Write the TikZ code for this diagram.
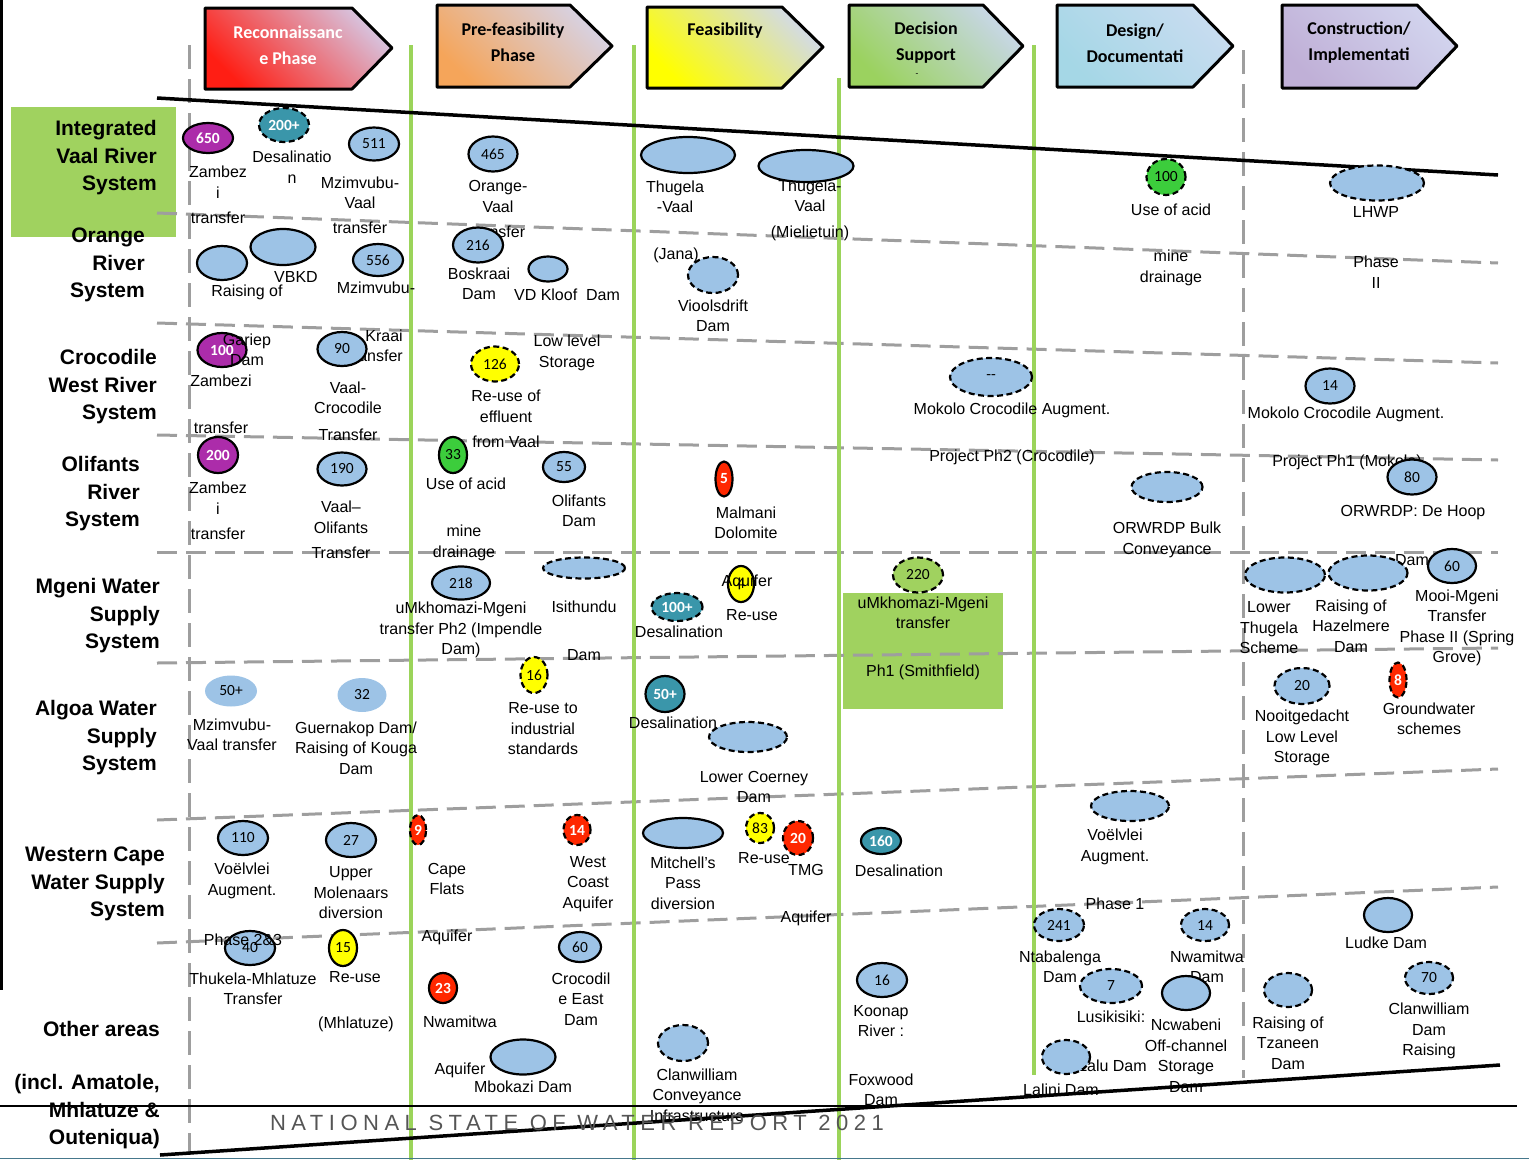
\documentclass[tikz,border=0pt]{standalone}
\usepackage{fontspec}
\setmainfont{Liberation Sans}
\newfontfamily\carlito{Carlito}
\newfontfamily\footfont[LetterSpace=25]{Liberation Sans}
\usetikzlibrary{shapes.geometric}
\definecolor{projblue}{RGB}{157,195,230}
\definecolor{zpurple}{RGB}{172,44,170}
\definecolor{desalteal}{RGB}{58,150,170}
\definecolor{reuseyellow}{RGB}{255,255,0}
\definecolor{acidgreen}{RGB}{60,205,60}
\definecolor{gwred}{RGB}{255,40,0}
\definecolor{boxgreen}{RGB}{160,210,95}
\definecolor{phaseline}{RGB}{155,212,90}
\definecolor{rowline}{RGB}{158,158,158}
\definecolor{footgray}{RGB}{85,85,85}
\definecolor{footrule}{RGB}{70,120,140}
\definecolor{rcnA}{RGB}{255,30,20}\definecolor{rcnB}{RGB}{215,195,222}
\definecolor{pfsA}{RGB}{245,165,90}\definecolor{pfsB}{RGB}{215,210,228}
\definecolor{fsA}{RGB}{255,255,0}\definecolor{fsB}{RGB}{210,218,232}
\definecolor{dsA}{RGB}{155,210,95}\definecolor{dsB}{RGB}{200,215,232}
\definecolor{ddA}{RGB}{165,215,230}\definecolor{ddB}{RGB}{200,220,240}
\definecolor{ciA}{RGB}{192,176,215}\definecolor{ciB}{RGB}{210,212,238}
\newcommand\numfont{\carlito\fontsize{15.5}{18}\selectfont}
\newcommand\lblfont{\fontsize{16}{20.5}\selectfont}
\newcommand\rowfont{\fontsize{21}{27.5}\selectfont\bfseries}
\newcommand\hdrfont{\carlito\bfseries\fontsize{18}{26}\selectfont}
\tikzset{
  proj/.style={ellipse, draw=black, line width=2.2pt, inner sep=0pt, fill=projblue, font=\numfont},
  plan/.style={proj, dash pattern=on 6pt off 3.5pt},
  sz/.style 2 args={minimum width=#1pt, minimum height=#2pt},
  hot/.style={text=white, font=\numfont\bfseries},
  lbl/.style={align=center, font=\lblfont, inner sep=0pt},
  sysname/.style={align=right, font=\rowfont, anchor=east, inner sep=0pt},
  hdr/.style={draw=black, line width=3pt, line join=round},
  hdrtxt/.style={align=center, font=\hdrfont, inner sep=0pt},
  rowsep/.style={rowline, line width=3pt, dash pattern=on 20pt off 9pt},
  colsep/.style={rowline, line width=3pt, dash pattern=on 24pt off 10pt},
  stagesep/.style={phaseline, line width=3.5pt},
  bound/.style={black, line width=3.5pt}
}
\begin{document}
\begin{tikzpicture}[x=1pt, y=-1pt]
\useasboundingbox (0,0) rectangle (1529,1160);
\node[fill=boxgreen, minimum width=165pt, minimum height=130pt, inner sep=0pt, anchor=north west] (ivrsbox) at (11,107) {};
\node[fill=boxgreen, minimum width=160pt, minimum height=116pt, inner sep=0pt] (smithbox) at (923,651) {};

\draw[line width=3pt] (1,0) -- (1,990);
\draw[rowsep] (157,213) -- (1498,263);
\draw[rowsep] (157,323) -- (1498,363);
\draw[rowsep] (157,435) -- (1498,460);
\draw[rowsep] (157,552) -- (1498,552);
\draw[rowsep] (157,663) -- (1498,648);
\draw[rowsep] (157,820) -- (1498,769);
\draw[rowsep] (157,943) -- (1498,887);
\draw[colsep] (189,45) -- (189,1155);
\draw[stagesep] (411,45) -- (411,1160);
\draw[stagesep] (634,45) -- (634,1160);
\draw[stagesep] (839,78) -- (839,1160);
\draw[stagesep] (1034,45) -- (1034,1075);
\draw[colsep] (1243,50) -- (1243,1078);
\draw[bound] (157,98) -- (1498,175);
\draw[bound] (160,1155) -- (1500,1065);

\shade[hdr, bottom color=rcnA, top color=rcnB, shading angle=-45] (205,8) -- (352,8) -- (392,48) -- (352,89) -- (205,89) -- cycle;
\shade[hdr, bottom color=pfsA, top color=pfsB, shading angle=-45] (437,5) -- (570,5) -- (612,46) -- (570,87) -- (437,87) -- cycle;
\shade[hdr, bottom color=fsA, top color=fsB, shading angle=-45] (647,7) -- (782,7) -- (823,47) -- (782,88) -- (647,88) -- cycle;
\shade[hdr, bottom color=dsA, top color=dsB, shading angle=-45] (849,5) -- (983,5) -- (1023,46) -- (983,87) -- (849,87) -- cycle;
\shade[hdr, bottom color=ddA, top color=ddB, shading angle=-45] (1057,5) -- (1193,5) -- (1233,46) -- (1193,87) -- (1057,87) -- cycle;
\shade[hdr, bottom color=ciA, top color=ciB, shading angle=-45] (1282,5) -- (1417,5) -- (1457,46) -- (1417,88) -- (1282,88) -- cycle;
\node[hdrtxt, text=white] (recon) at (288,45) {Reconnaissanc\\e Phase};
\node[hdrtxt] (prefeas) at (513,42) {Pre-feasibility\\Phase};
\node[hdrtxt] (feas) at (725,31) {Feasibility};
\node[hdrtxt] (decision) at (926,43) {Decision\\Support};
\node[font=\carlito\fontsize{9}{9}\selectfont, inner sep=0pt] (decmark) at (917,75) {-};
\node[hdrtxt] (design) at (1135,43) {Design/\\Documentati};
\node[hdrtxt] (construct) at (1359,43) {Construction/\\Implementati};

\node[sysname] (ivrs) at (157,158) {Integrated\\Vaal River\\System};
\node[sysname] (orange) at (145,265) {Orange\\River\\System};
\node[sysname] (crocw) at (157,387) {Crocodile\\West River\\System};
\node[sysname] (olifants) at (140,494) {Olifants\\River\\System};
\node[sysname] (mgeni) at (160,616) {Mgeni Water\\Supply\\System};
\node[sysname] (algoa) at (157,738) {Algoa Water\\Supply\\System};
\node[sysname] (wcape) at (165,884) {Western Cape\\Water Supply\\System};
\node[sysname] (other) at (160,1029) {Other areas};
\node[sysname] (otherincl) at (160,1112) {(incl. Amatole,\\Mhlatuze \&\\Outeniqua)};

\node[lbl] (zam650lbl) at (218,195) {Zambez\\i\\[5pt]transfer};
\node[lbl] (desal200lbl) at (292,167) {Desalinatio\\n};
\node[lbl] (mzv511lbl) at (360,205) {Mzimvubu-\\Vaal\\[4pt]transfer};
\node[lbl] (ov465lbl) at (498,209) {Orange-\\Vaal\\[5pt]transfer};
\node[lbl] (tv1lbl) at (675,197) {Thugela\\-Vaal};
\node[lbl] (tv2lbl) at (810,210) {Thugela-\\Vaal\\[5pt](Mielietuin)};
\node[lbl] (acid100lbl) at (1171,210) {Use of acid};
\node[lbl] (acid100lblb) at (1171,268) {mine\\drainage};
\node[lbl] (lhwplbl) at (1376,212) {LHWP};
\node[lbl] (lhwplblb) at (1376,272) {Phase\\II};

\node[lbl] (raisevblbl) at (247,292) {Raising of};
\node[lbl] (vbkdlbl) at (296,277) {VBKD};
\node[lbl] (mzv556lbl) at (376,288) {Mzimvubu-};
\node[lbl] (bosk216lbl) at (479,284) {Boskraai\\Dam};
\node[lbl] (vdklbl) at (567,295) {VD Kloof\ \ Dam};
\node[lbl] (jana) at (676,255) {(Jana)};
\node[lbl] (vioollbl) at (713,316) {Vioolsdrift\\Dam};

\node[lbl] (zam100lbl) at (221,381) {Zambezi};
\node[lbl] (zam100lblb) at (221,428) {transfer};
\node[lbl, align=right, anchor=east] (kraai) at (403,346) {Kraai\\transfer};
\node[lbl] (vc90lbl) at (348,411) {Vaal-\\Crocodile\\[6pt]Transfer};
\node[lbl] (lowlevel) at (567,353) {Low level\\Storage};
\node[lbl] (reuse126lbl) at (506,419) {Re-use of\\effluent\\[5pt]from Vaal};
\node[lbl] (mokolo2lbl) at (1012,410) {Mokolo Crocodile Augment.};
\node[lbl] (mokolo2lblb) at (1012,457) {Project Ph2 (Crocodile)};
\node[lbl] (mokolo1lbl) at (1346,414) {Mokolo Crocodile Augment.};
\node[lbl] (mokolo1lblb) at (1347,462) {Project Ph1 (Mokolo)};

\node[lbl] (zam200lbl) at (218,511) {Zambez\\i\\[5pt]transfer};
\node[lbl] (vo190lbl) at (341,530) {Vaal--\\Olifants\\[5pt]Transfer};
\node[lbl] (acid33lbl) at (466,484) {Use of acid};
\node[lbl] (acid33lblb) at (464,543) {mine\\drainage};
\node[lbl] (olif55lbl) at (579,511) {Olifants\\Dam};
\node[lbl] (malm5lbl) at (746,523) {Malmani\\Dolomite};
\node[lbl] (orwrdplbl) at (1167,540) {ORWRDP Bulk\\Conveyance};
\node[lbl] (dehooplbl) at (1413,513) {ORWRDP: De Hoop};

\node[lbl] (imp218lbl) at (461,630) {uMkhomazi-Mgeni\\transfer Ph2 (Impendle\\Dam)};
\node[lbl] (isithlbl) at (584,607) {Isithundu};
\node[lbl] (isithlblb) at (584,655) {Dam};
\node[lbl] (desal100lbl) at (679,632) {Desalination};
\node[lbl] (reuse4lbl) at (752,615) {Re-use};
\node[lbl] (smithlbl) at (923,613) {uMkhomazi-Mgeni\\transfer};
\node[lbl] (smithlblb) at (923,672) {Ph1 (Smithfield)};
\node[lbl] (lthuglbl) at (1269,628) {Lower\\Thugela\\Scheme};
\node[lbl] (hazellbl) at (1351,626) {Raising of\\Hazelmere\\Dam};
\node[lbl] (mooidam) at (1412,560) {Dam};
\node[lbl] (mooilbl) at (1457,628) {Mooi-Mgeni\\Transfer\\Phase II (Spring\\Grove)};

\node[lbl] (mzv50lbl) at (232,735) {Mzimvubu-\\Vaal transfer};
\node[lbl] (kouga32lbl) at (356,748) {Guernakop Dam/\\Raising of Kouga\\Dam};
\node[lbl] (reuse16lbl) at (543,729) {Re-use to\\industrial\\standards};
\node[lbl] (desal50lbl) at (673,723) {Desalination};
\node[lbl] (coerneylbl) at (754,787) {Lower Coerney\\Dam};
\node[lbl] (nooitlbl) at (1302,738) {Nooitgedacht\\Low Level\\Storage};
\node[lbl] (gw8lbl) at (1429,719) {Groundwater\\schemes};

\node[lbl] (voel1lbl) at (1115,847) {Voëlvlei\\Augment.};
\node[lbl] (voel1lblb) at (1115,904) {Phase 1};
\node[lbl] (voel110lbl) at (242,881) {Voëlvlei\\Augment.};
\node[lbl] (molenlbl) at (351,893) {Upper\\Molenaars\\diversion};
\node[lbl] (cape9lbl) at (447,879) {Cape\\Flats};
\node[lbl] (cape9lblb) at (447,937) {Aquifer};
\node[lbl] (west14lbl) at (588,884) {West\\Coast\\Aquifer};
\node[lbl] (mitchlbl) at (683,883) {Mitchell’s\\Pass\\diversion};
\node[lbl] (reuse83lbl) at (764,858) {Re-use};
\node[lbl] (tmglbl) at (806,870) {TMG};
\node[lbl] (tmglblb) at (806,918) {Aquifer};
\node[lbl] (desal160lbl) at (899,871) {Desalination};

\node[lbl] (thuklbl) at (253,989) {Thukela-Mhlatuze\\Transfer};
\node[lbl] (reuse15lbl) at (355,977) {Re-use};
\node[lbl] (reuse15lblb) at (356,1024) {(Mhlatuze)};
\node[lbl] (nwam23lbl) at (460,1022) {Nwamitwa};
\node[lbl] (nwam23lblb) at (460,1070) {Aquifer};
\node[lbl] (croc60lbl) at (581,999) {Crocodil\\e East\\Dam};
\node[lbl] (mboklbl) at (523,1087) {Mbokazi Dam};
\node[lbl] (clanclbl) at (697,1095) {Clanwilliam\\Conveyance\\Infrastructure};
\node[lbl] (koonlbl) at (881,1021) {Koonap\\River :};
\node[lbl] (koonlblb) at (881,1090) {Foxwood\\Dam};
\node[lbl] (ntablbl) at (1060,967) {Ntabalenga\\Dam};
\node[lbl] (luslbl) at (1111,1017) {Lusikisiki:};
\node[lbl] (luslblb) at (1112,1066) {Zalu Dam};
\node[lbl] (lalinilbl) at (1061,1090) {Lalini Dam};
\node[lbl] (ncwablbl) at (1186,1056) {Ncwabeni\\Off-channel\\Storage\\Dam};
\node[lbl] (nwam14lbl) at (1207,967) {Nwamitwa\\Dam};
\node[lbl] (tzanlbl) at (1288,1043) {Raising of\\Tzaneen\\Dam};
\node[lbl] (ludkelbl) at (1386,943) {Ludke Dam};
\node[lbl] (clan70lbl) at (1429,1031) {Clanwilliam\\Dam\\Raising};

\node[proj, sz={50}{30}, fill=zpurple, hot] (zam650) at (208,138) {650};
\node[plan, sz={50}{34}, fill=desalteal, hot] (desal200) at (284,125) {200+};
\node[proj, sz={50}{33}] (mzv511) at (374,144) {511};
\node[proj, sz={49}{35}] (ov465) at (493,154) {465};
\node[proj, sz={94}{36}] (tv1) at (688,155) {};
\node[proj, sz={95}{32}] (tv2) at (806,166) {};
\node[plan, sz={39}{36}, fill=acidgreen] (acid100) at (1166,177) {100};
\node[plan, sz={94}{35}] (lhwp) at (1377,183) {};

\node[proj, sz={50}{34}] (raisevb) at (222,263) {};
\node[proj, sz={65}{36}] (vbkd) at (283,247) {};
\node[proj, sz={50}{32}] (mzv556) at (378,260) {556};
\node[proj, sz={50}{35}] (bosk216) at (478,245) {216};
\node[proj, sz={39}{25}] (vdk) at (548,269) {};
\node[plan, sz={50}{36}] (viool) at (713,275) {};

\node[proj, sz={49}{34}, fill=zpurple, hot] (zam100) at (222,350) {100};
\node[proj, sz={49}{34}] (vc90) at (342,349) {90};
\node[plan, sz={48}{35}, fill=reuseyellow] (reuse126) at (495,364) {126};
\node[plan, sz={82}{38}] (mokolo2) at (991,377) {-{}-};
\node[proj, sz={49}{35}] (mokolo1) at (1330,386) {14};

\node[proj, sz={40}{36}, fill=zpurple, hot] (zam200) at (218,455) {200};
\node[proj, sz={49}{33}] (vo190) at (342,469) {190};
\node[proj, sz={28}{36}, fill=acidgreen] (acid33) at (453,455) {33};
\node[proj, sz={42}{30}] (olif55) at (564,467) {55};
\node[proj, sz={17}{35}, fill=gwred, hot] (malm5) at (724,479) {5};
\node[plan, sz={71}{30}] (orwrdp) at (1167,487) {};
\node[proj, sz={49}{35}] (dehoop80) at (1412,477) {80};

\node[proj, sz={58}{33}] (imp218) at (461,583) {218};
\node[plan, sz={82}{21}] (isith) at (584,568) {};
\node[plan, sz={51}{28}, fill=desalteal, hot] (desal100) at (677,607) {100+};
\node[proj, sz={26}{36}, fill=reuseyellow] (reuse4) at (741,584) {4};
\node[plan, sz={50}{35}, fill=boxgreen] (smith220) at (918,575) {220};
\node[plan, sz={80}{35}] (lthug) at (1285,575) {};
\node[plan, sz={79}{35}] (hazel) at (1368,573) {};
\node[proj, sz={48}{34}] (mooi60) at (1452,566) {60};

\node[proj, draw=none, sz={52}{31}] (mzv50) at (231,691) {50+};
\node[proj, draw=none, sz={49}{34}] (kouga32) at (362,695) {32};
\node[plan, sz={27}{36}, fill=reuseyellow] (reuse16) at (534,675) {16};
\node[proj, sz={39}{36}, fill=desalteal, hot] (desal50) at (665,694) {50+};
\node[plan, sz={78}{30}] (coerney) at (748,737) {};
\node[plan, sz={55}{36}] (nooit20) at (1302,686) {20};
\node[plan, sz={17}{35}, fill=gwred, hot] (gw8) at (1398,680) {8};

\node[plan, sz={78}{30}] (voel1) at (1130,806) {};
\node[proj, sz={50}{34}] (voel110) at (243,838) {110};
\node[proj, sz={50}{34}] (molen27) at (351,840) {27};
\node[plan, sz={16}{30}, fill=gwred, hot] (cape9) at (418,830) {9};
\node[plan, sz={27}{30}, fill=gwred, hot] (west14) at (577,830) {14};
\node[proj, sz={80}{30}] (mitch) at (683,833) {};
\node[plan, sz={28}{30}, fill=reuseyellow] (reuse83) at (760,828) {83};
\node[plan, sz={30}{34}, fill=gwred, hot] (tmg20) at (798,838) {20};
\node[proj, sz={40}{26}, fill=desalteal, hot] (desal160) at (881,841) {160};

\node[proj, sz={50}{34}] (thuk40) at (250,948) {40};
\node[proj, sz={28}{36}, fill=reuseyellow] (reuse15) at (343,948) {15};
\node[proj, sz={28}{30}, fill=gwred, hot] (nwam23) at (443,988) {23};
\node[proj, sz={42}{30}] (croc60) at (580,947) {60};
\node[proj, sz={65}{35}] (mbok) at (523,1057) {};
\node[plan, sz={50}{36}] (clanc) at (683,1043) {};
\node[proj, sz={50}{34}] (koon16) at (882,980) {16};
\node[plan, sz={50}{32}] (ntab241) at (1059,925) {241};
\node[plan, sz={62}{34}] (lus7) at (1111,986) {7};
\node[plan, sz={48}{34}] (lalini) at (1066,1057) {};
\node[proj, sz={48}{34}] (ncwab) at (1186,993) {};
\node[plan, sz={48}{32}] (nwam14) at (1205,925) {14};
\node[plan, sz={48}{34}] (tzan) at (1288,990) {};
\node[proj, sz={48}{34}] (ludke) at (1388,915) {};
\node[plan, sz={48}{32}] (clan70) at (1429,978) {70};

\node[lbl] (gariep) at (247,350) {Gariep\\Dam};
\node[lbl] (aquifer4) at (747,582) {Aquifer};
\node[lbl] (phase23) at (243,940) {Phase 2\&3};

\draw[black, line width=1.2pt] (0,1106) -- (1517,1106);
\draw[footrule, line width=1pt] (0,1158) -- (1529,1158);
\node[font=\footfont\fontsize{22}{24}\selectfont, text=footgray, inner sep=0pt] (footer) at (577,1123) {NATIONAL STATE OF WATER REPORT 2021};
\end{tikzpicture}
\end{document}
